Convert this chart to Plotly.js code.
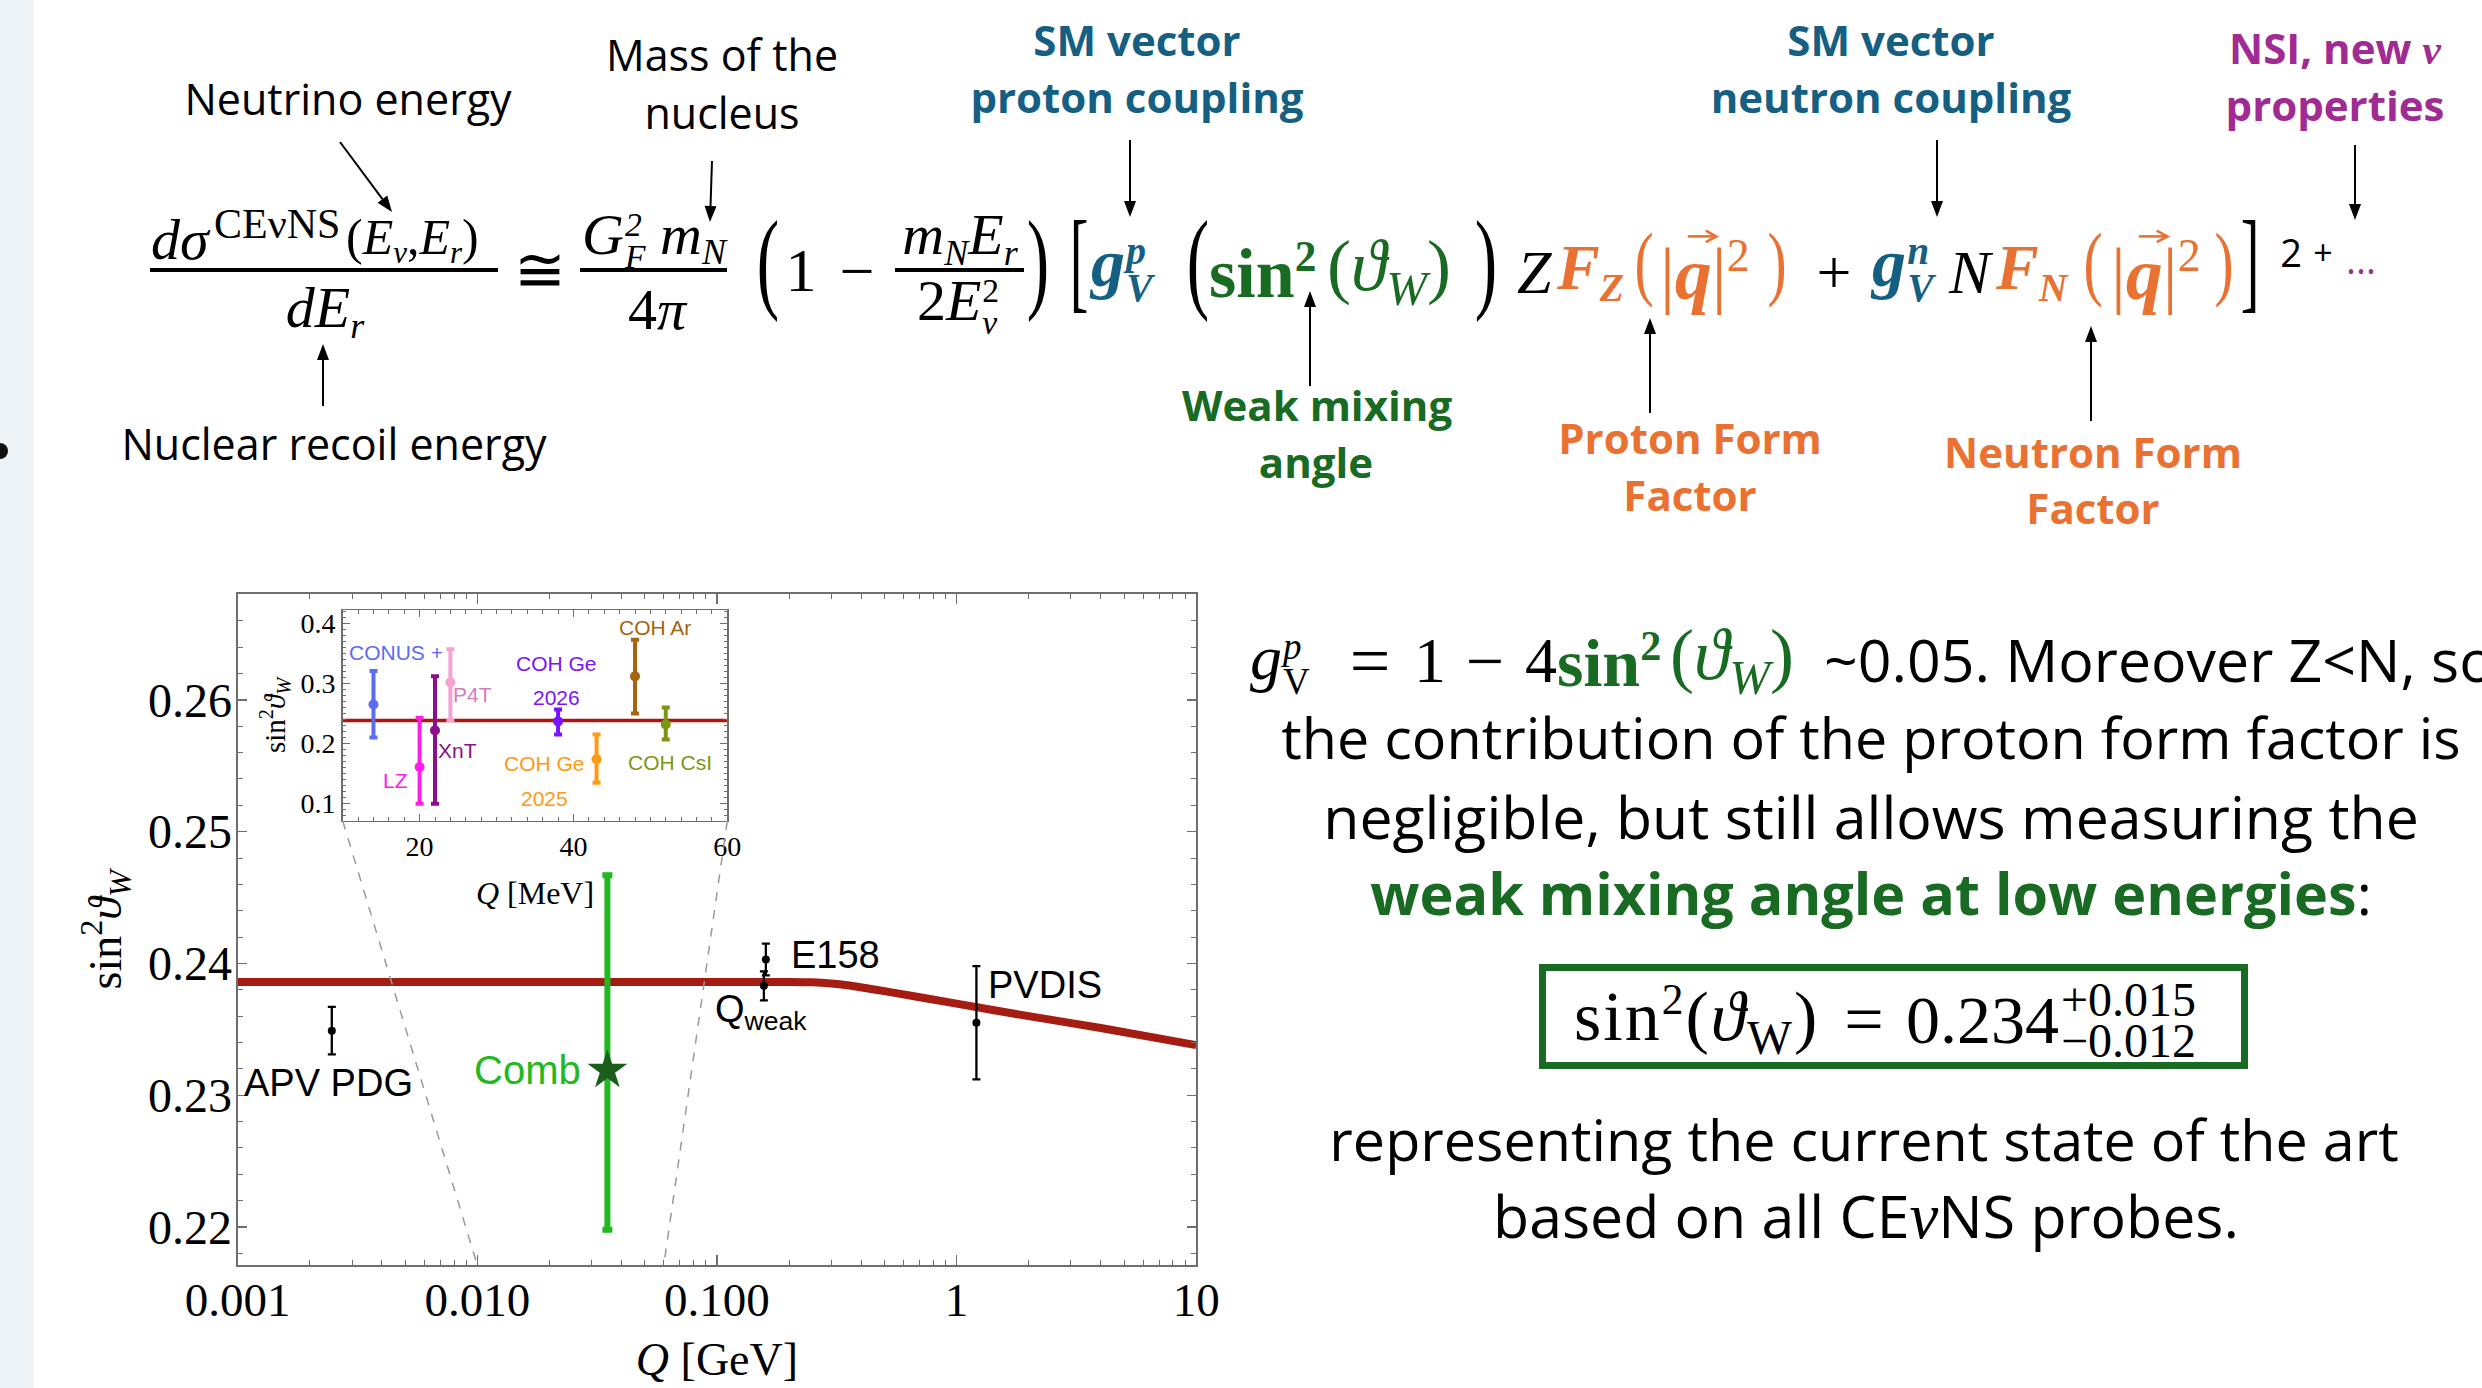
<!DOCTYPE html>
<html><head><meta charset="utf-8">
<script src="https://cdn.plot.ly/plotly-3.0.1.min.js"></script>
<style>
html,body{margin:0;padding:0;background:#fff;overflow:hidden;}
#page{position:relative;width:2482px;height:1388px;overflow:hidden;background:#fff;}
#strip{position:absolute;left:0;top:0;width:34px;height:1388px;background:#eef3f8;}
#bullet{position:absolute;left:-8px;top:443px;width:16px;height:16px;border-radius:50%;background:#111;}
#chart{position:absolute;left:0;top:0;width:2482px;height:1388px;}
#arrows{position:absolute;left:0;top:0;width:2482px;height:1388px;pointer-events:none;}
#ov{position:absolute;left:0;top:0;width:2482px;height:1388px;pointer-events:none;}
.f{position:absolute;white-space:nowrap;line-height:1;}
.sans{font-family:'Open Sans',sans-serif;}
.serif{font-family:'Liberation Serif','DejaVu Serif',serif;}
.ss{display:inline-flex;flex-direction:column;vertical-align:middle;font-size:0.58em;line-height:0.95;margin-left:0.03em;}
.sup{vertical-align:0.6em;font-size:0.62em;}
.sub{vertical-align:-0.3em;font-size:0.62em;}
.vq{position:relative;display:inline-block;}
.vq svg{position:absolute;left:0.12em;top:-0.12em;width:0.5em;height:0.22em;overflow:visible;}
.bar{position:absolute;height:4px;background:#000;}
#box{position:absolute;left:1539px;top:964px;width:709px;height:105px;border:7px solid #196B24;box-sizing:border-box;}
</style></head>
<body><div id="page"><div id="strip"></div><div id="bullet"></div><div id="chart"></div><svg id="arrows" xmlns="http://www.w3.org/2000/svg"></svg><div id="box"></div><div id="ov"></div></div>
<script>
// ================= DATA =================
// running weak mixing angle curve (Q in GeV)
const curveQ = [0.001, 0.2, 0.25, 0.3, 0.35, 0.5, 1, 2, 4, 10];
const curveS = [0.2386, 0.2386, 0.23857, 0.23848, 0.23835, 0.2379, 0.23695, 0.2360, 0.2351, 0.2338];
// other experiments
const expNames = ['APV PDG', 'Qweak', 'E158', 'PVDIS'];
const expQ = [0.00247, 0.157, 0.160, 1.21];
const expS = [0.2349, 0.2383, 0.2403, 0.2355];
const expErr = [0.0018, 0.0011, 0.0012, 0.0043];
// combined CEvNS result
const combQ = [0.0349];
const combS = [0.2319];
const combUp = [0.0148];
const combDn = [0.0121];
// inset (Q in MeV)
const insetNames = ['CONUS +', 'LZ', 'XnT', 'P4T', 'COH Ge 2026', 'COH Ge 2025', 'COH Ar', 'COH CsI'];
const insetQ = [14, 20, 22, 24, 38, 43, 48, 52];
const insetS = [0.265, 0.161, 0.222, 0.302, 0.237, 0.174, 0.312, 0.232];
const insetUp = [0.056, 0.082, 0.090, 0.055, 0.020, 0.041, 0.061, 0.028];
const insetDn = [0.055, 0.061, 0.122, 0.063, 0.022, 0.039, 0.062, 0.025];
const insetColors = ['#5b6cf2', '#ff1ee8', '#8a0f8a', '#f6a2d2', '#7a12ff', '#ff9a12', '#a5640f', '#7a9614'];
const insetRefQ = [10, 60];
const insetRefS = [0.2386, 0.2386];
// ticks
const xTickVals = [0.001, 0.01, 0.1, 1, 10];
const xTickText = ['0.001', '0.010', '0.100', '1', '10'];
const yTickVals = [0.22, 0.23, 0.24, 0.25, 0.26];
const yTickText = ['0.22', '0.23', '0.24', '0.25', '0.26'];
const x2TickVals = [20, 40, 60];
const x2TickText = ['20', '40', '60'];
const y2TickVals = [0.1, 0.2, 0.3, 0.4];
const y2TickText = ['0.1', '0.2', '0.3', '0.4'];

// ================= GEOMETRY =================
const W = 2482, H = 1388;
const px = x => x / W, py = y => 1 - y / H;
const M = {l: 237.7, r: 1196.2, t: 594.4, b: 1265.3};
const I = {l: 342.7, r: 727.3, t: 610, b: 820.9};
const xRangeLog = [-3, 1];
const xMinor = [];
for (let k = -3; k <= 0; k++) for (let m = 2; m <= 9; m++) xMinor.push(m * Math.pow(10, k));
const mainPX = q => px(M.l) + (Math.log10(q) - xRangeLog[0]) / (xRangeLog[1] - xRangeLog[0]) * (px(M.r) - px(M.l));

const GRAY = '#6e6e6e';
const SERIF = 'Liberation Serif';
const SANS = 'Liberation Sans';

const traces = [];
traces.push({x: curveQ, y: curveS, type: 'scatter', mode: 'lines', line: {color: '#a51c12', width: 8, shape: 'spline', smoothing: 0.6}, hoverinfo: 'skip', xaxis: 'x', yaxis: 'y'});
traces.push({x: expQ, y: expS, type: 'scatter', mode: 'markers', name: 'exp', marker: {color: '#000', size: 8},
  error_y: {type: 'data', array: expErr, color: '#000', thickness: 2.3, width: 4}, xaxis: 'x', yaxis: 'y'});
traces.push({x: combQ, y: combS, type: 'scatter', mode: 'markers', name: 'Comb', marker: {symbol: 'star', size: 30, color: '#1b5e1b'},
  error_y: {type: 'data', symmetric: false, array: combUp, arrayminus: combDn, color: '#22b822', thickness: 6, width: 5}, xaxis: 'x', yaxis: 'y'});
traces.push({x: insetRefQ, y: insetRefS, type: 'scatter', mode: 'lines', line: {color: '#b0140e', width: 3.5}, hoverinfo: 'skip', xaxis: 'x2', yaxis: 'y2'});
insetNames.forEach((n, i) => traces.push({x: [insetQ[i]], y: [insetS[i]], type: 'scatter', mode: 'markers', name: n,
  marker: {color: insetColors[i], size: 10},
  error_y: {type: 'data', symmetric: false, array: [insetUp[i]], arrayminus: [insetDn[i]], color: insetColors[i], thickness: 4, width: 4},
  xaxis: 'x2', yaxis: 'y2'}));

const axBase = {showgrid: false, zeroline: false, showline: true, linecolor: GRAY, linewidth: 2, mirror: 'ticks', ticks: 'inside', tickcolor: GRAY};

const ann = [];
function A(text, x, y, size, color, o) {
  ann.push(Object.assign({text: text, x: px(x), y: py(y), xref: 'paper', yref: 'paper', showarrow: false,
    xanchor: 'center', yanchor: 'middle', font: {family: SANS, size: size, color: color || '#000'}}, o || {}));
}
A('APV PDG', 328, 1083, 38);
A('Comb', 527, 1070, 40, '#22b822');
A('E158', 789, 955, 38, '#000', {xanchor: 'left'});
A('Q<sub>weak</sub>', 713, 1012, 38, '#000', {xanchor: 'left'});
A('PVDIS', 986, 985, 38, '#000', {xanchor: 'left'});
const insetLabelPos = [[396, 652], [395, 780], [458, 750], [472, 695], [556, 663, 697], [544, 763, 798], [655, 628], [670, 762]];
const insetLabelText = ['CONUS +', 'LZ', 'XnT', 'P4T', ['COH Ge', '2026'], ['COH Ge', '2025'], 'COH Ar', 'COH CsI'];
const insetLabelColor = ['#5b6cf2', '#ff1ee8', '#8a0f8a', '#d57cbc', '#7a12ff', '#ff9a12', '#a5640f', '#7a9614'];
insetLabelText.forEach((t, i) => {
  const p = insetLabelPos[i];
  if (Array.isArray(t)) { A(t[0], p[0], p[1], 21, insetLabelColor[i]); A(t[1], p[0], p[2], 21, insetLabelColor[i]); }
  else A(t, p[0], p[1], 21, insetLabelColor[i]);
});

const shapes = [
  {type: 'line', xref: 'paper', yref: 'paper', x0: px(I.l), y0: py(I.b), x1: mainPX(insetRefQ[0] / 1000), y1: py(M.b), line: {color: '#9a9a9a', width: 1.5, dash: 'dash'}},
  {type: 'line', xref: 'paper', yref: 'paper', x0: px(I.r), y0: py(I.b), x1: mainPX(insetRefQ[1] / 1000), y1: py(M.b), line: {color: '#9a9a9a', width: 1.5, dash: 'dash'}}
];

const thetaTitle = 'sin<sup>2</sup><i>ϑ</i><sub><i>W</i></sub>';
const layout = {
  width: W, height: H, margin: {l: 0, r: 0, t: 0, b: 0, pad: 0}, showlegend: false,
  paper_bgcolor: 'rgba(0,0,0,0)', plot_bgcolor: '#ffffff',
  xaxis: Object.assign({}, axBase, {type: 'log', range: xRangeLog, domain: [px(M.l), px(M.r)], anchor: 'y',
    tickmode: 'array', tickvals: xTickVals, ticktext: xTickText, ticklen: 10, tickwidth: 1.5, ticklabelstandoff: -8,
    tickfont: {family: SERIF, size: 47, color: '#000'},
    title: {text: '<i>Q</i> [GeV]', font: {family: SERIF, size: 46, color: '#000'}, standoff: 18},
    minor: {tickmode: 'array', tickvals: xMinor, ticks: 'inside', ticklen: 5, tickwidth: 1, tickcolor: GRAY}}),
  yaxis: Object.assign({}, axBase, {range: [0.2171, 0.2680], domain: [py(M.b), py(M.t)], anchor: 'x',
    tickmode: 'array', tickvals: yTickVals, ticktext: yTickText, ticklen: 9, tickwidth: 1.5, ticklabelstandoff: -6,
    tickfont: {family: SERIF, size: 48, color: '#000'},
    title: {text: thetaTitle, font: {family: SERIF, size: 46, color: '#000'}, standoff: 12},
    minor: {tick0: 0.22, dtick: 0.002, ticks: 'inside', ticklen: 5, tickwidth: 1, tickcolor: GRAY}}),
  xaxis2: Object.assign({}, axBase, {range: [10, 60], domain: [px(I.l), px(I.r)], anchor: 'y2', linewidth: 1.5,
    tickmode: 'array', tickvals: x2TickVals, ticktext: x2TickText, ticklen: 7, tickwidth: 1,
    tickfont: {family: SERIF, size: 28, color: '#000'},
    title: {text: '<i>Q</i> [MeV]', font: {family: SERIF, size: 32, color: '#000'}, standoff: 20},
    minor: {tick0: 10, dtick: 2, ticks: 'inside', ticklen: 4, tickwidth: 1, tickcolor: GRAY}}),
  yaxis2: Object.assign({}, axBase, {range: [0.0713, 0.4225], domain: [py(I.b), py(I.t)], anchor: 'x2', linewidth: 1.5,
    tickmode: 'array', tickvals: y2TickVals, ticktext: y2TickText, ticklen: 7, tickwidth: 1,
    tickfont: {family: SERIF, size: 28, color: '#000'},
    title: {text: thetaTitle, font: {family: SERIF, size: 29, color: '#000'}, standoff: 6},
    minor: {tick0: 0.1, dtick: 0.01, ticks: 'inside', ticklen: 3, tickwidth: 1, tickcolor: GRAY}}),
  annotations: ann, shapes: shapes
};
Plotly.newPlot('chart', traces, layout, {staticPlot: true, displayModeBar: false});

// ================= SLIDE TEXT =================
const BLUE = '#156082', GREEN = '#196B24', ORANGE = '#E97132', MAG = '#A02B93';
const ov = document.getElementById('ov');
function F(anchor, x, y, cls, style, html, extraT) {
  const d = document.createElement('div');
  d.className = 'f ' + cls;
  d.style.cssText = style;
  d.style.left = x + 'px'; d.style.top = (y - (cls === 'sans' ? 3 : 0)) + 'px';
  d.style.transform = (anchor === 'c' ? 'translate(-50%,-50%)' : anchor === 'r' ? 'translate(-100%,-50%)' : 'translate(0,-50%)') + (extraT || '');
  d.innerHTML = html;
  ov.appendChild(d);
}
function bar(x0, x1, y) {
  const d = document.createElement('div'); d.className = 'bar';
  d.style.left = x0 + 'px'; d.style.top = (y - 2) + 'px'; d.style.width = (x1 - x0) + 'px';
  ov.appendChild(d);
}
const ss = (a, b) => '<span class="ss"><span>' + a + '</span><span>' + b + '</span></span>';
const vq = '<span class="vq">q<svg viewBox="0 0 20 10"><line x1="1" y1="5" x2="17" y2="5" stroke="currentColor" stroke-width="1.6"/><path d="M12 1.5 L18.5 5 L12 8.5" fill="none" stroke="currentColor" stroke-width="1.6"/></svg></span>';
function bigP(ch, x, y, size, color, sx) {
  F('c', x, y - 0.1 * size, 'serif', 'font-size:' + size + 'px;color:' + (color || '#000'), ch, ' scaleX(' + (sx || 0.6) + ')');
}

const L43 = 'font-size:43px;color:#000';
F('c', 348, 101, 'sans', L43, 'Neutrino energy');
F('c', 722, 57, 'sans', L43, 'Mass of the');
F('c', 722, 115, 'sans', L43, 'nucleus');
F('c', 334, 446, 'sans', L43, 'Nuclear recoil energy');
const B = c => 'font-size:42px;font-weight:700;color:' + c;
F('c', 1137, 43, 'sans', B(BLUE), 'SM vector');
F('c', 1137, 100, 'sans', B(BLUE), 'proton coupling');
F('c', 1891, 43, 'sans', B(BLUE), 'SM vector');
F('c', 1891, 100, 'sans', B(BLUE), 'neutron coupling');
F('c', 2335, 52, 'sans', B(MAG), 'NSI, new <span class="serif" style="font-style:italic;font-weight:700">ν</span>');
F('c', 2335, 108, 'sans', B(MAG), 'properties');
F('c', 1317, 408, 'sans', B(GREEN), 'Weak mixing');
F('c', 1316, 465, 'sans', B(GREEN), 'angle');
F('c', 1690, 441, 'sans', B(ORANGE), 'Proton Form');
F('c', 1690, 498, 'sans', B(ORANGE), 'Factor');
F('c', 2093, 455, 'sans', B(ORANGE), 'Neutron Form');
F('c', 2093, 511, 'sans', B(ORANGE), 'Factor');

// formula
const IT = 'font-style:italic;';
F('l', 151, 240, 'serif', IT + 'font-size:58px', 'dσ');
F('l', 214, 224, 'serif', 'font-size:42px', 'CEνNS');
F('l', 346, 240, 'serif', 'font-size:50px', '(<i>E</i><span class="sub"><i>ν</i></span>,<i>E</i><span class="sub"><i>r</i></span>)');
bar(150, 498, 270);
F('c', 325, 312, 'serif', IT + 'font-size:58px', 'dE<span class="sub">r</span>');
F('c', 540, 270, 'serif', 'font-size:62px', '≅');
F('c', 654, 239, 'serif', IT + 'font-size:58px', 'G' + ss('2', 'F') + ' m<span class="sub">N</span>');
bar(580, 727, 270);
F('c', 657, 310, 'serif', 'font-size:58px', '4<i>π</i>');
bigP('(', 768, 271, 112);
F('c', 801, 270, 'serif', 'font-size:62px', '1');
F('c', 857, 271, 'serif', 'font-size:62px', '−');
F('c', 960, 239, 'serif', IT + 'font-size:58px', 'm<span class="sub">N</span>E<span class="sub">r</span>');
bar(895, 1024, 270);
F('c', 958, 305, 'serif', 'font-size:58px', '2<i>E</i>' + ss('2', '<i>ν</i>'));
bigP(')', 1038, 271, 112);
bigP('[', 1079, 271, 112, '#000', 0.5);
F('l', 1091, 268, 'serif', IT + 'font-weight:700;font-size:68px;color:' + BLUE, 'g' + ss('p', 'V'));
bigP('(', 1198, 271, 112);
F('l', 1209, 272, 'serif', 'font-size:70px;color:' + GREEN, '<b>sin</b><span class="sup"><b>2</b></span>');
F('l', 1327, 272, 'serif', 'font-size:72px;color:' + GREEN, '(<i>ϑ</i><span class="sub" style="font-size:0.68em"><i>W</i></span>)');
bigP(')', 1486, 271, 112);
F('l', 1517, 272, 'serif', IT + 'font-size:62px', 'Z');
F('l', 1557, 272, 'serif', IT + 'font-weight:700;font-size:64px;color:' + ORANGE, 'F<span class="sub">Z</span>');
bigP('(', 1644, 271, 82, ORANGE, 0.7);
F('l', 1660, 272, 'serif', 'font-size:74px;color:' + ORANGE, '|<b><i>' + vq + '</i></b>|<span class="sup">2</span>');
bigP(')', 1777, 271, 82, ORANGE, 0.7);
F('c', 1834, 272, 'serif', 'font-size:62px', '+');
F('l', 1872, 268, 'serif', IT + 'font-weight:700;font-size:68px;color:' + BLUE, 'g' + ss('n', 'V'));
F('l', 1949, 272, 'serif', IT + 'font-size:62px', 'N');
F('l', 1996, 272, 'serif', IT + 'font-weight:700;font-size:64px;color:' + ORANGE, 'F<span class="sub">N</span>');
bigP('(', 2093, 271, 82, ORANGE, 0.7);
F('l', 2111, 272, 'serif', 'font-size:74px;color:' + ORANGE, '|<b><i>' + vq + '</i></b>|<span class="sup">2</span>');
bigP(')', 2224, 271, 82, ORANGE, 0.7);
bigP(']', 2250, 271, 112, '#000', 0.5);
F('c', 2291, 255, 'sans', 'font-size:38px', '2');
F('c', 2323, 255, 'sans', 'font-size:34px', '+');
F('c', 2361, 262, 'sans', 'font-size:38px;color:' + MAG, '...');

// right-hand notes
F('l', 1250, 663, 'serif', IT + 'font-size:64px', 'g' + ss('<i>p</i>', '<span style="font-style:normal">V</span>'));
F('c', 1370, 661, 'serif', 'font-size:72px', '=');
F('c', 1430, 661, 'serif', 'font-size:64px', '1');
F('c', 1485, 661, 'serif', 'font-size:68px', '−');
F('c', 1541, 661, 'serif', 'font-size:64px', '4');
F('l', 1557, 661, 'serif', 'font-size:68px;color:' + GREEN, '<b>sin</b><span class="sup"><b>2</b></span>');
F('l', 1670, 661, 'serif', 'font-size:72px;color:' + GREEN, '(<i>ϑ</i><span class="sub" style="font-size:0.68em"><i>W</i></span>)');
F('l', 1824, 662, 'sans', 'font-size:59px', '~0.05. Moreover Z&lt;N, so');
F('c', 1871, 741, 'sans', 'font-size:57.5px', 'the contribution of the proton form factor is');
F('c', 1871, 819, 'sans', 'font-size:59px', 'negligible, but still allows measuring the');
F('c', 1871, 897, 'sans', 'font-size:57.5px', '<b style="color:' + GREEN + '">weak mixing angle at low energies</b>:');
F('l', 1574, 1020, 'serif', 'font-size:70px;letter-spacing:2px', 'sin<span class="sup">2</span>(<i>ϑ</i><span class="sub" style="font-size:0.68em">W</span>)');
F('c', 1864, 1020, 'serif', 'font-size:70px', '=');
F('r', 2059, 1020, 'serif', 'font-size:68px', '0.234');
F('l', 2061, 1020, 'serif', 'font-size:48px;line-height:0.86',
  '<span style="display:inline-flex;flex-direction:column"><span>+0.015</span><span>−0.012</span></span>');
F('c', 1864, 1143, 'sans', 'font-size:57.5px', 'representing the current state of the art');
F('c', 1866, 1219, 'sans', 'font-size:59px', 'based on all CE<span class="serif" style="font-style:italic;font-size:1.1em">ν</span>NS probes.');

// arrows
const arrowSpec = [[340, 142, 392, 212], [712, 161, 710, 222], [1130, 140, 1130, 217], [1937, 140, 1937, 217], [2355, 145, 2355, 220],
  [1310, 386, 1310, 291], [1650, 413, 1650, 318], [2091, 421, 2091, 326], [323, 406, 323, 344]];
const svg = document.getElementById('arrows');
let s = '';
arrowSpec.forEach(a => {
  const [x0, y0, x1, y1] = a;
  const dx = x1 - x0, dy = y1 - y0, L = Math.hypot(dx, dy), ux = dx / L, uy = dy / L;
  const hl = 16, hw = 6;
  const bx = x1 - ux * hl, by = y1 - uy * hl;
  s += '<line x1="' + x0 + '" y1="' + y0 + '" x2="' + bx + '" y2="' + by + '" stroke="#000" stroke-width="2"/>';
  s += '<polygon points="' + x1 + ',' + y1 + ' ' + (bx - uy * hw) + ',' + (by + ux * hw) + ' ' + (bx + uy * hw) + ',' + (by - ux * hw) + '" fill="#000"/>';
});
svg.innerHTML = s;
</script>
</body></html>
